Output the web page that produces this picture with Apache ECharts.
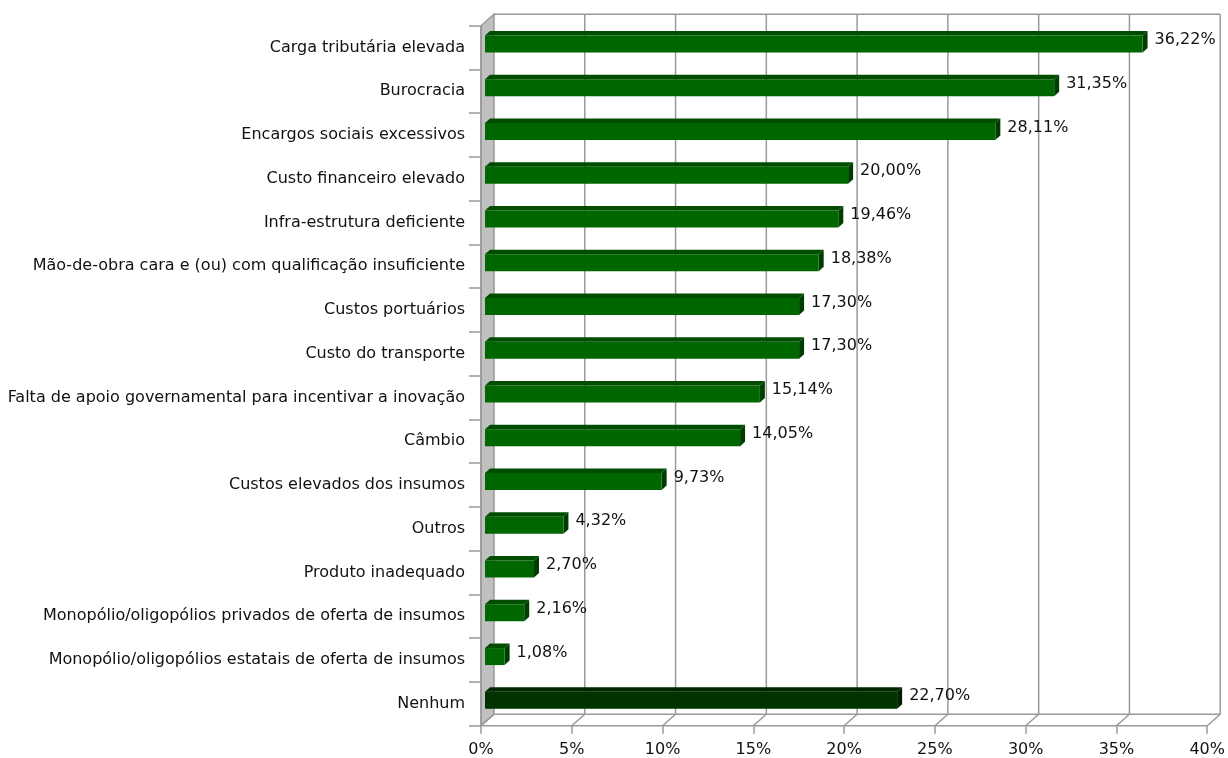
<!DOCTYPE html>
<html>
<head>
<meta charset="utf-8">
<title>Obstáculos</title>
<script src="https://cdn.jsdelivr.net/npm/echarts@6/dist/echarts.min.js"></script>
<style>
  html, body { margin: 0; padding: 0; background: #ffffff; }
  #chart { width: 1228px; height: 758px; }
</style>
</head>
<body>
<div id="chart"></div>
<script>
// Categories, top to bottom
const categories = [
  'Carga tributária elevada',
  'Burocracia',
  'Encargos sociais excessivos',
  'Custo financeiro elevado',
  'Infra-estrutura deficiente',
  'Mão-de-obra cara e (ou) com qualificação insuficiente',
  'Custos portuários',
  'Custo do transporte',
  'Falta de apoio governamental para incentivar a inovação',
  'Câmbio',
  'Custos elevados dos insumos',
  'Outros',
  'Produto inadequado',
  'Monopólio/oligopólios privados de oferta de insumos',
  'Monopólio/oligopólios estatais de oferta de insumos',
  'Nenhum'
];

// Percentages for each category
const values = [36.22, 31.35, 28.11, 20.00, 19.46, 18.38, 17.30, 17.30, 15.14, 14.05, 9.73, 4.32, 2.70, 2.16, 1.08, 22.70];

// Axis ticks (percent)
const xTicks = [0, 5, 10, 15, 20, 25, 30, 35, 40];

const FONT = 'DejaVu Sans';
const GRID_COLOR = '#999999';
const TEXT_COLOR = '#111111';

// 3D offsets (pixels)
const WALL_DX = 13, WALL_DY = 11.5;   // depth of the back wall
const BAR_DX = 4, BAR_DY = 3.5;       // bar placement depth
const BAR_DEPTH_X = 5, BAR_DEPTH_Y = 4.5; // bar thickness
const BAR_H = 17;                      // bar front face height

function fmt(v) {
  return v.toFixed(2).replace('.', ',') + '%';
}

const chart = echarts.init(document.getElementById('chart'), null, { renderer: 'canvas' });

// Frame: back wall, left wall, floor
function renderFrame(params, api) {
  const x0 = api.coord([0, categories[0]])[0];
  const x40 = api.coord([40, categories[0]])[0];
  const band = api.size([0, 1])[1];
  const yTop = api.coord([0, categories[0]])[1] - band / 2;
  const yBot = api.coord([0, categories[categories.length - 1]])[1] + band / 2;
  const children = [];
  const ls = { stroke: GRID_COLOR, lineWidth: 1.5 };
  // left wall
  children.push({
    type: 'polygon',
    shape: { points: [[x0, yTop], [x0 + WALL_DX, yTop - WALL_DY], [x0 + WALL_DX, yBot - WALL_DY], [x0, yBot]] },
    style: { fill: '#c0c0c0', stroke: GRID_COLOR, lineWidth: 1.5 }
  });
  // back wall top and floor back edge
  children.push({ type: 'line', shape: { x1: x0 + WALL_DX, y1: yTop - WALL_DY, x2: x40 + WALL_DX, y2: yTop - WALL_DY }, style: ls });
  children.push({ type: 'line', shape: { x1: x0 + WALL_DX, y1: yBot - WALL_DY, x2: x40 + WALL_DX, y2: yBot - WALL_DY }, style: ls });
  // vertical gridlines on back wall + floor diagonals
  xTicks.forEach(function (t) {
    const x = api.coord([t, categories[0]])[0];
    if (t > 0) {
      children.push({ type: 'line', shape: { x1: x + WALL_DX, y1: yTop - WALL_DY, x2: x + WALL_DX, y2: yBot - WALL_DY }, style: ls });
    }
    children.push({ type: 'line', shape: { x1: x, y1: yBot, x2: x + WALL_DX, y2: yBot - WALL_DY }, style: ls });
  });
  // front floor edge and front left axis
  children.push({ type: 'line', shape: { x1: x0, y1: yBot, x2: x40, y2: yBot }, style: ls });
  children.push({ type: 'line', shape: { x1: x0, y1: yTop, x2: x0, y2: yBot }, style: ls });
  return { type: 'group', children: children };
}

// 3D bars with value labels
function renderBar(params, api) {
  const idx = params.dataIndex;
  const v = api.value(0);
  const cat = api.value(1);
  const p0 = api.coord([0, cat]);
  const p1 = api.coord([v, cat]);
  const last = idx === categories.length - 1;
  const front = last ? '#003300' : '#006600';
  const top = last ? '#002600' : '#004d00';
  const side = last ? '#001f00' : '#003d00';
  const xa = p0[0] + BAR_DX;
  const xb = p1[0] + BAR_DX;
  const cy = p0[1] - BAR_DY;
  const ya = cy - BAR_H / 2;
  const yb = cy + BAR_H / 2;
  const dx = BAR_DEPTH_X, dy = BAR_DEPTH_Y;
  return {
    type: 'group',
    children: [
      { type: 'polygon', shape: { points: [[xa, ya], [xa + dx, ya - dy], [xb + dx, ya - dy], [xb, ya]] }, style: { fill: top } },
      { type: 'polygon', shape: { points: [[xb, ya], [xb + dx, ya - dy], [xb + dx, yb - dy], [xb, yb]] }, style: { fill: side } },
      { type: 'rect', shape: { x: xa, y: ya, width: xb - xa, height: yb - ya }, style: { fill: front } },
      {
        type: 'text',
        style: {
          x: xb + dx + 7, y: cy - 4,
          text: fmt(v),
          fill: TEXT_COLOR,
          font: '16px "' + FONT + '"',
          verticalAlign: 'middle',
          align: 'left'
        }
      }
    ]
  };
}

const option = {
  backgroundColor: '#ffffff',
  animation: false,
  grid: { left: 481, right: 20, top: 25.7, bottom: 32.3, containLabel: false },
  xAxis: {
    type: 'value',
    min: 0, max: 40, interval: 5,
    axisLine: { show: false },
    axisTick: { show: true, length: 8, lineStyle: { color: GRID_COLOR, width: 1.5 } },
    splitLine: { show: false },
    axisLabel: {
      formatter: '{value}%',
      color: TEXT_COLOR,
      fontFamily: FONT,
      fontSize: 16,
      margin: 16
    }
  },
  yAxis: {
    type: 'category',
    data: categories,
    inverse: true,
    axisLine: { show: false },
    axisTick: { show: true, length: 12, lineStyle: { color: GRID_COLOR, width: 1.5 } },
    axisLabel: {
      color: TEXT_COLOR,
      fontFamily: FONT,
      fontSize: 16,
      margin: 16
    }
  },
  series: [
    {
      type: 'custom',
      renderItem: function (params, api) {
        if (params.dataIndex !== 0) return null;
        return renderFrame(params, api);
      },
      data: [[0, categories[0]]],
      encode: { x: 0, y: 1 },
      silent: true,
      z: 1
    },
    {
      type: 'custom',
      renderItem: renderBar,
      data: values.map(function (v, i) { return [v, categories[i]]; }),
      encode: { x: 0, y: 1 },
      z: 2
    }
  ]
};

chart.setOption(option);
</script>
</body>
</html>
